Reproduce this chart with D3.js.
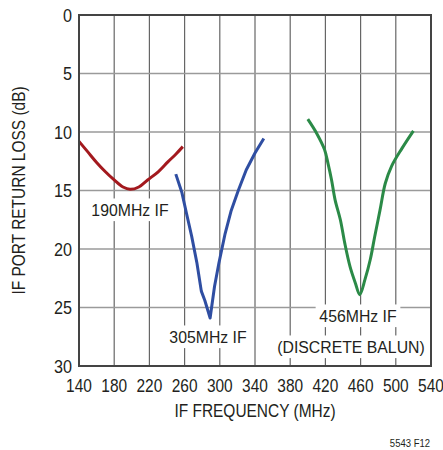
<!DOCTYPE html>
<html><head><meta charset="utf-8">
<script src="https://cdn.jsdelivr.net/npm/d3@7"></script>
<style>
html,body{margin:0;padding:0;background:#fff;}
svg{display:block;}
text{font-family:"Liberation Sans Narrow","Arial Narrow","Liberation Sans",Arial,sans-serif;fill:#231f20;}
</style></head>
<body>
<svg id="chart" width="443" height="450"></svg>
<script>
// ---- data ----
const xTicks = [140,180,220,260,300,340,380,420,460,500,540];
const yTicks = [0,5,10,15,20,25,30];

const freq190 = [140,150,160,170,180,190,198,208,218,230,241,250,258];
const loss190 = [10.8,11.7,12.6,13.4,14.1,14.7,14.9,14.7,14.1,13.4,12.55,11.9,11.25];

const freq305 = [250,257,262,268,274,279,283,289,294,299,306,313,321,330,340,350];
const loss305 = [13.6,15.2,16.9,18.9,21.2,23.6,24.4,25.9,23.2,21.2,18.7,16.7,15.0,13.25,11.8,10.55];

const freq456 = [400,410,419,423,427,431,437,442,448,454,459,465,471,476,482,488,495,507,520];
const loss456 = [8.9,10.1,11.5,12.7,14.1,15.8,17.5,19.5,21.5,22.9,23.9,22.6,20.9,18.95,16.7,14.4,12.95,11.4,9.9];

const seriesNames = ["190MHz IF","305MHz IF","456MHz IF"];

// ---- layout ----
const svg = d3.select("#chart");
const L = 79, R = 431, T = 15, B = 366;
const x = d3.scaleLinear().domain([140,540]).range([L,R]);
const y = d3.scaleLinear().domain([0,30]).range([T,B]);

// condensed text helper
function ctext(parent, txt, tx, ty, size, sx, anchor, rot){
  const grp = parent.append("g")
    .attr("transform",`translate(${tx},${ty})${rot?` rotate(${rot})`:""} scale(${sx},1)`);
  const t = grp.append("text").attr("x",0).attr("y",0)
    .attr("text-anchor",anchor||"middle").attr("font-size",size).text(txt);
  return {grp, t};
}

// gridlines
const g = svg.append("g");
g.selectAll("line.v").data(xTicks.slice(1,-1)).join("line")
  .attr("x1",d=>x(d)).attr("x2",d=>x(d)).attr("y1",T).attr("y2",B)
  .attr("stroke","#666").attr("stroke-width",1.2);
g.selectAll("line.h").data(yTicks.slice(1,-1)).join("line")
  .attr("x1",L).attr("x2",R).attr("y1",d=>y(d)).attr("y2",d=>y(d))
  .attr("stroke","#9a9a9a").attr("stroke-width",1.5);

// curves
const lineSmooth = d3.line().x(d=>x(d[0])).y(d=>y(d[1])).curve(d3.curveCatmullRom.alpha(0.5));
const lineSharp = d3.line().x(d=>x(d[0])).y(d=>y(d[1]));
const curves = svg.append("g");
curves.append("path").datum(d3.zip(freq190,loss190)).attr("d",lineSmooth)
  .attr("fill","none").attr("stroke","#a3191e").attr("stroke-width",3).attr("stroke-linejoin","round");
curves.append("path").datum(d3.zip(freq305,loss305)).attr("d",lineSharp)
  .attr("fill","none").attr("stroke","#2f4ea2").attr("stroke-width",3).attr("stroke-linejoin","round");
curves.append("path").datum(d3.zip(freq456,loss456)).attr("d",lineSmooth)
  .attr("fill","none").attr("stroke","#2b8a47").attr("stroke-width",3).attr("stroke-linejoin","round");

// labels with white backgrounds (mask gridlines)
function label(txt, cx, baseline){
  const {grp, t} = ctext(svg, txt, cx, baseline, 17, 0.93);
  const bb = t.node().getBBox();
  grp.insert("rect","text").attr("x",bb.x-4).attr("y",bb.y-2)
    .attr("width",bb.width+8).attr("height",bb.height+4).attr("fill","#fff");
}
label(seriesNames[0], 130, 216);
label(seriesNames[1], 208, 343);
label(seriesNames[2], 358, 322);
label("(DISCRETE BALUN)", 351, 353);

// frame
svg.append("rect").attr("x",L).attr("y",T).attr("width",R-L).attr("height",B-T)
  .attr("fill","none").attr("stroke","#444").attr("stroke-width",2);

// tick labels
xTicks.forEach(d => ctext(svg, d, x(d), 392, 18, 0.86));
yTicks.forEach(d => ctext(svg, d, 72, y(d)+6.5, 18, 0.9, "end"));

// axis titles
ctext(svg, "IF FREQUENCY (MHz)", (L+R)/2, 417, 18, 0.86);
ctext(svg, "IF PORT RETURN LOSS (dB)", 25, (T+B)/2, 18, 0.86, "middle", -90);

ctext(svg, "5543 F12", 430, 447, 10, 0.95, "end");
</script>
</body></html>
